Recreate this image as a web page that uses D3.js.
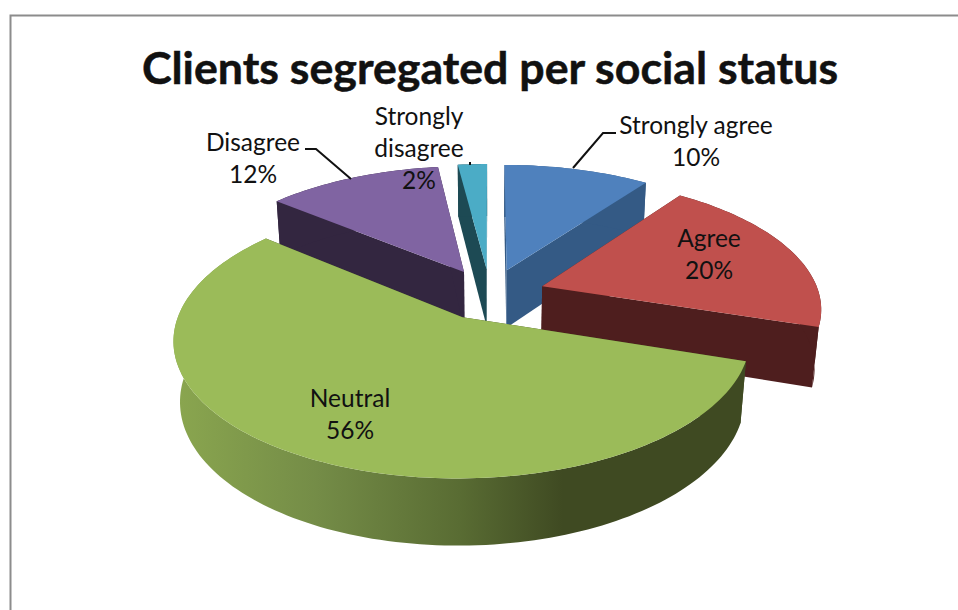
<!DOCTYPE html>
<html>
<head>
<meta charset="utf-8">
<script src="https://cdn.jsdelivr.net/npm/d3@7"></script>
<style>
  html, body { margin: 0; padding: 0; background: #fff; }
  svg { display: block; }
  text { font-family: Lato, "Open Sans", sans-serif; fill: #111; }
</style>
</head>
<body>
<svg id="chart" width="958" height="610"></svg>
<script>
const categories = ["Strongly agree", "Agree", "Neutral", "Disagree", "Strongly disagree"];
const shares = [10, 20, 56, 12, 2];
const topColors = ["#4f81bd", "#c0504d", "#9bbb59", "#8064a2", "#4bacc6"];
const sideColors = ["#345a85", "#4e1e1e", "url(#greenWall)", "#332640", "#1d4a54"];
const chartTitle = "Clients segregated per social status";

// Painter's order: back slices first, the large front slice last.
const drawOrder = [0, 4, 3, 1, 2];

// Perspective camera for the tilted disc.
const view = { x0: 490, y0: 294, sx: 277, sy: 128.4, persp: -0.1546, depthPersp: 0.02, depth: 60, explode: 0.2 };

function project(u, v, z) {
  const w = 1 + view.persp * v + view.depthPersp * z;
  return [view.x0 + view.sx * u / w, view.y0 + (view.sy * v + view.depth * z) / w];
}

const svg = d3.select("#chart");

// Chart frame: open on the right, running off the page at the bottom
svg.append("path")
  .attr("d", "M10.5,610 V15.5 H958")
  .attr("fill", "none").attr("stroke", "#8c8c8c").attr("stroke-width", 2);

const defs = svg.append("defs");
const wall = defs.append("linearGradient").attr("id", "greenWall")
  .attr("gradientUnits", "userSpaceOnUse")
  .attr("x1", 175).attr("x2", 745).attr("y1", 0).attr("y2", 0);
[[0, "#8aa64f"], [0.25, "#748c47"], [0.5, "#596c33"], [0.68, "#3f4a22"], [1, "#3f4a22"]]
  .forEach(([o, c]) => wall.append("stop").attr("offset", o).attr("stop-color", c));

const arcs = d3.pie().sort(null).value(d => d)(shares);
const line = d3.line();

function sliceGeometry(arc) {
  const mid = (arc.startAngle + arc.endAngle) / 2;
  const ox = Math.sin(mid) * view.explode, oy = -Math.cos(mid) * view.explode;
  const n = Math.max(6, Math.ceil((arc.endAngle - arc.startAngle) * 40));
  const angles = d3.range(n + 1).map(i => arc.startAngle + (arc.endAngle - arc.startAngle) * i / n);
  const rim = z => angles.map(a => project(ox + Math.sin(a), oy - Math.cos(a), z));
  return { apex: z => project(ox, oy, z), rim };
}

const slices = svg.append("g").attr("class", "slices");
drawOrder.forEach(i => {
  const g = sliceGeometry(arcs[i]);
  const top = g.rim(0), bottom = g.rim(1);
  const s = slices.append("g");
  // radial faces
  [0, top.length - 1].forEach(k => {
    s.append("path")
      .attr("d", line([g.apex(0), top[k], bottom[k], g.apex(1)]) + "Z")
      .attr("fill", i === 2 ? "#3f4a22" : sideColors[i]);
  });
  // curved outer wall
  s.append("path")
    .attr("d", line(top.concat(bottom.slice().reverse())) + "Z")
    .attr("fill", sideColors[i]);
  // top surface
  s.append("path")
    .attr("d", line([g.apex(0)].concat(top)) + "Z")
    .attr("fill", topColors[i]);
});

// Leader lines
const leaders = [
  [[573, 168], [603, 133], [616, 133]],
  [[351, 179], [316, 149], [305, 149]],
  [[470, 162], [470, 165]]
];
svg.append("g").selectAll("path").data(leaders).join("path")
  .attr("d", d => line(d))
  .attr("fill", "none").attr("stroke", "#111").attr("stroke-width", 2);

svg.append("text")
  .attr("x", 490).attr("y", 84).attr("text-anchor", "middle")
  .attr("font-size", 44.7).attr("font-weight", 700)
  .attr("stroke", "#111").attr("stroke-width", 0.5).text(chartTitle);

// Data labels: name lines followed by the share
const labelSpots = [
  { i: 0, x: 696, y: 134, lines: ["Strongly agree"] },
  { i: 1, x: 709, y: 247, lines: ["Agree"] },
  { i: 2, x: 350, y: 407, lines: ["Neutral"] },
  { i: 3, x: 253, y: 151, lines: ["Disagree"] },
  { i: 4, x: 419, y: 125, lines: ["Strongly", "disagree"] }
];
const labels = svg.append("g").attr("font-size", 24.5).attr("text-anchor", "middle");
labelSpots.forEach(spot => {
  const rows = spot.lines.concat(shares[spot.i] + "%");
  rows.forEach((t, k) => {
    labels.append("text").attr("x", spot.x).attr("y", spot.y + k * 32).text(t);
  });
});
</script>
</body>
</html>
